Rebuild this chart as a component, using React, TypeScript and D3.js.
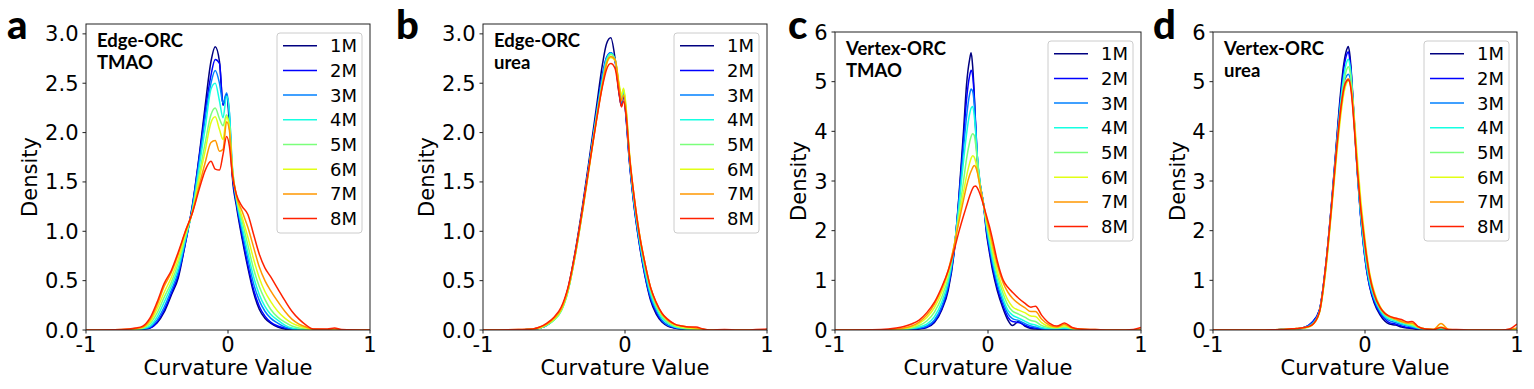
import * as d3 from "d3";

const concentrations = ["1M", "2M", "3M", "4M", "5M", "6M", "7M", "8M"];
// jet colormap sampled at i/8
const jetColors = ["#000080", "#0000ff", "#0080ff", "#15ffe2", "#7bff7b", "#e2ff15", "#ff9700", "#ff2100"];
const xTicks = [-1, 0, 1];
const edgeYTicks = [0, 0.5, 1, 1.5, 2, 2.5, 3];
const vertexYTicks = [0, 1, 2, 3, 4, 5, 6];

// ---- panel a: Edge-ORC, TMAO (each row: density of 1M..8M at that x)
const edgeTmaoX = [-1, -0.75, -0.65, -0.6, -0.55, -0.5, -0.45, -0.4, -0.35, -0.3, -0.25, -0.2, -0.16, -0.12, -0.09, -0.06, -0.035, -0.01, 0.01, 0.03, 0.06, 0.1, 0.14, 0.18, 0.22, 0.26, 0.3, 0.35, 0.4, 0.45, 0.5, 0.55, 0.6, 0.7, 0.75, 0.8, 1];
const edgeTmaoDensity = [
  [0, 0, 0, 0, 0, 0, 0, 0],
  [0, 0, 0, 0, 0, 0, 0.005, 0.005],
  [0, 0, 0, 0.005, 0.01, 0.01, 0.015, 0.02],
  [0.01, 0.01, 0.01, 0.015, 0.02, 0.025, 0.03, 0.04],
  [0.02, 0.02, 0.03, 0.04, 0.06, 0.08, 0.1, 0.12],
  [0.07, 0.08, 0.1, 0.13, 0.17, 0.21, 0.25, 0.28],
  [0.18, 0.2, 0.23, 0.28, 0.33, 0.38, 0.44, 0.47],
  [0.35, 0.37, 0.4, 0.44, 0.48, 0.53, 0.58, 0.6],
  [0.53, 0.56, 0.59, 0.63, 0.68, 0.72, 0.77, 0.79],
  [0.88, 0.88, 0.9, 0.92, 0.95, 0.97, 1.0, 1.0],
  [1.27, 1.26, 1.25, 1.22, 1.21, 1.2, 1.19, 1.19],
  [1.8, 1.78, 1.74, 1.68, 1.6, 1.55, 1.48, 1.44],
  [2.28, 2.22, 2.15, 2.05, 1.9, 1.82, 1.7, 1.62],
  [2.72, 2.58, 2.5, 2.44, 2.18, 2.1, 1.9, 1.71],
  [2.87, 2.74, 2.63, 2.5, 2.25, 2.16, 1.92, 1.63],
  [2.72, 2.7, 2.5, 2.32, 2.14, 2.03, 1.81, 1.62],
  [2.28, 2.28, 2.3, 2.15, 2.07, 1.93, 1.83, 1.78],
  [2.38, 2.39, 2.4, 2.37, 2.18, 2.16, 2.11, 1.96],
  [2.08, 2.15, 2.2, 2.2, 2.06, 2.06, 2.02, 1.86],
  [1.56, 1.6, 1.64, 1.67, 1.65, 1.64, 1.62, 1.58],
  [1.25, 1.28, 1.3, 1.32, 1.34, 1.35, 1.36, 1.37],
  [0.92, 0.95, 1.0, 1.04, 1.1, 1.14, 1.2, 1.25],
  [0.63, 0.66, 0.72, 0.78, 0.86, 0.94, 1.04, 1.17],
  [0.38, 0.41, 0.47, 0.54, 0.62, 0.72, 0.84, 0.97],
  [0.21, 0.24, 0.3, 0.36, 0.44, 0.53, 0.64, 0.77],
  [0.12, 0.14, 0.19, 0.24, 0.31, 0.39, 0.5, 0.63],
  [0.07, 0.08, 0.12, 0.16, 0.21, 0.29, 0.4, 0.54],
  [0.03, 0.04, 0.07, 0.1, 0.13, 0.19, 0.29, 0.42],
  [0.01, 0.02, 0.03, 0.05, 0.08, 0.12, 0.19, 0.3],
  [0, 0.01, 0.01, 0.02, 0.04, 0.07, 0.11, 0.19],
  [0, 0, 0, 0.01, 0.02, 0.04, 0.06, 0.11],
  [0, 0, 0, 0, 0.01, 0.02, 0.03, 0.05],
  [0, 0, 0, 0, 0, 0, 0.01, 0.01],
  [0, 0, 0, 0, 0, 0, 0.005, 0.01],
  [0, 0, 0, 0, 0, 0, 0.01, 0.02],
  [0, 0, 0, 0, 0, 0, 0, 0.005],
  [0, 0, 0, 0, 0, 0, 0, 0],
];

// ---- panel b: Edge-ORC, urea
const edgeUreaX = [-1, -0.75, -0.65, -0.6, -0.55, -0.5, -0.45, -0.4, -0.35, -0.3, -0.25, -0.2, -0.16, -0.13, -0.1, -0.07, -0.04, -0.025, -0.01, 0.01, 0.03, 0.06, 0.1, 0.14, 0.18, 0.22, 0.26, 0.3, 0.35, 0.4, 0.45, 0.5, 0.55, 0.6, 0.7, 0.8, 1];
const edgeUreaDensity = [
  [0, 0, 0, 0, 0, 0, 0, 0],
  [0, 0, 0, 0, 0, 0, 0.005, 0.005],
  [0.01, 0.01, 0.01, 0.01, 0.01, 0.01, 0.01, 0.01],
  [0.02, 0.02, 0.02, 0.02, 0.02, 0.02, 0.03, 0.03],
  [0.05, 0.05, 0.05, 0.05, 0.05, 0.06, 0.06, 0.07],
  [0.11, 0.11, 0.11, 0.1, 0.1, 0.11, 0.12, 0.13],
  [0.21, 0.21, 0.2, 0.19, 0.19, 0.2, 0.21, 0.23],
  [0.43, 0.42, 0.41, 0.4, 0.4, 0.41, 0.42, 0.44],
  [0.8, 0.78, 0.77, 0.76, 0.76, 0.76, 0.77, 0.79],
  [1.25, 1.22, 1.21, 1.2, 1.2, 1.19, 1.2, 1.22],
  [1.75, 1.71, 1.7, 1.69, 1.68, 1.66, 1.67, 1.68],
  [2.27, 2.21, 2.2, 2.18, 2.16, 2.14, 2.14, 2.13],
  [2.68, 2.58, 2.56, 2.53, 2.5, 2.47, 2.48, 2.46],
  [2.9, 2.76, 2.76, 2.74, 2.72, 2.69, 2.7, 2.64],
  [2.96, 2.81, 2.81, 2.8, 2.79, 2.76, 2.77, 2.7],
  [2.75, 2.72, 2.74, 2.74, 2.74, 2.73, 2.74, 2.65],
  [2.38, 2.4, 2.42, 2.44, 2.46, 2.48, 2.45, 2.38],
  [2.27, 2.27, 2.3, 2.33, 2.35, 2.38, 2.32, 2.26],
  [2.38, 2.4, 2.42, 2.43, 2.44, 2.45, 2.38, 2.32],
  [2.1, 2.12, 2.15, 2.17, 2.19, 2.22, 2.18, 2.14],
  [1.72, 1.73, 1.75, 1.77, 1.79, 1.82, 1.8, 1.78],
  [1.3, 1.31, 1.33, 1.35, 1.37, 1.4, 1.4, 1.4],
  [0.88, 0.89, 0.91, 0.93, 0.96, 0.99, 0.99, 0.98],
  [0.55, 0.56, 0.58, 0.61, 0.64, 0.68, 0.68, 0.68],
  [0.3, 0.32, 0.34, 0.37, 0.4, 0.43, 0.43, 0.43],
  [0.16, 0.18, 0.2, 0.22, 0.24, 0.27, 0.27, 0.28],
  [0.08, 0.09, 0.1, 0.12, 0.14, 0.16, 0.17, 0.17],
  [0.04, 0.05, 0.05, 0.07, 0.08, 0.1, 0.1, 0.11],
  [0.02, 0.02, 0.03, 0.03, 0.04, 0.05, 0.06, 0.06],
  [0.01, 0.01, 0.01, 0.02, 0.02, 0.03, 0.04, 0.04],
  [0, 0, 0.01, 0.01, 0.01, 0.02, 0.03, 0.03],
  [0, 0, 0, 0.01, 0.01, 0.01, 0.02, 0.03],
  [0, 0, 0, 0, 0, 0, 0.01, 0.01],
  [0, 0, 0, 0, 0, 0, 0, 0],
  [0, 0, 0, 0, 0, 0, 0, 0.005],
  [0, 0, 0, 0, 0, 0, 0, 0],
  [0, 0, 0, 0, 0, 0, 0, 0.01],
];

// ---- panels c and d share the x grid
const vertexX = [-1, -0.7, -0.6, -0.55, -0.5, -0.45, -0.4, -0.35, -0.3, -0.26, -0.22, -0.19, -0.16, -0.14, -0.12, -0.11, -0.1, -0.09, -0.08, -0.07, -0.05, -0.03, -0.01, 0.01, 0.03, 0.06, 0.1, 0.13, 0.16, 0.2, 0.24, 0.28, 0.31, 0.35, 0.4, 0.45, 0.5, 0.55, 0.6, 0.7, 0.8, 0.9, 0.95, 1];

// ---- panel c: Vertex-ORC, TMAO
const vertexTmaoDensity = [
  [0, 0, 0, 0, 0, 0, 0, 0],
  [0, 0, 0, 0, 0, 0, 0, 0.01],
  [0, 0, 0, 0.01, 0.01, 0.02, 0.02, 0.04],
  [0.01, 0.01, 0.01, 0.01, 0.02, 0.03, 0.04, 0.07],
  [0.01, 0.01, 0.02, 0.03, 0.04, 0.06, 0.08, 0.12],
  [0.02, 0.03, 0.04, 0.06, 0.09, 0.13, 0.16, 0.2],
  [0.05, 0.06, 0.08, 0.12, 0.18, 0.25, 0.3, 0.35],
  [0.15, 0.17, 0.2, 0.27, 0.36, 0.45, 0.52, 0.56],
  [0.42, 0.45, 0.5, 0.58, 0.68, 0.78, 0.85, 0.88],
  [0.8, 0.85, 0.9, 0.98, 1.06, 1.15, 1.2, 1.2],
  [1.6, 1.62, 1.65, 1.68, 1.7, 1.72, 1.72, 1.62],
  [2.7, 2.65, 2.6, 2.5, 2.35, 2.25, 2.18, 1.98],
  [4.0, 3.85, 3.65, 3.4, 3.0, 2.78, 2.62, 2.3],
  [4.95, 4.65, 4.3, 3.95, 3.45, 3.1, 2.9, 2.5],
  [5.45, 5.12, 4.75, 4.35, 3.78, 3.36, 3.12, 2.7],
  [5.58, 5.23, 4.85, 4.47, 3.9, 3.46, 3.2, 2.78],
  [5.3, 5.12, 4.8, 4.5, 3.95, 3.51, 3.27, 2.85],
  [4.75, 4.7, 4.55, 4.32, 3.92, 3.48, 3.31, 2.89],
  [4.0, 4.1, 4.05, 3.95, 3.72, 3.38, 3.28, 2.9],
  [3.4, 3.5, 3.5, 3.5, 3.42, 3.2, 3.18, 2.86],
  [2.9, 2.9, 2.92, 2.92, 2.9, 2.85, 2.85, 2.72],
  [2.55, 2.55, 2.55, 2.55, 2.55, 2.53, 2.55, 2.52],
  [1.95, 2.0, 2.05, 2.1, 2.15, 2.2, 2.25, 2.3],
  [1.55, 1.6, 1.68, 1.75, 1.85, 1.92, 2.0, 2.08],
  [1.2, 1.26, 1.34, 1.42, 1.52, 1.62, 1.72, 1.82],
  [0.8, 0.86, 0.94, 1.02, 1.12, 1.2, 1.32, 1.4],
  [0.42, 0.48, 0.55, 0.62, 0.72, 0.82, 0.94, 1.0],
  [0.2, 0.26, 0.33, 0.4, 0.5, 0.6, 0.76, 0.86],
  [0.09, 0.17, 0.23, 0.3, 0.38, 0.47, 0.64, 0.76],
  [0.17, 0.15, 0.19, 0.24, 0.32, 0.4, 0.53, 0.64],
  [0.08, 0.1, 0.13, 0.18, 0.26, 0.35, 0.45, 0.54],
  [0.03, 0.05, 0.08, 0.12, 0.19, 0.28, 0.37, 0.46],
  [0.02, 0.04, 0.06, 0.1, 0.17, 0.27, 0.37, 0.48],
  [0.01, 0.02, 0.03, 0.05, 0.09, 0.15, 0.22, 0.3],
  [0, 0.01, 0.02, 0.03, 0.05, 0.07, 0.1, 0.14],
  [0, 0.01, 0.02, 0.03, 0.04, 0.05, 0.06, 0.08],
  [0, 0.01, 0.02, 0.04, 0.06, 0.08, 0.11, 0.14],
  [0, 0, 0.01, 0.02, 0.03, 0.03, 0.04, 0.05],
  [0, 0, 0, 0.01, 0.01, 0.01, 0.02, 0.02],
  [0, 0, 0, 0, 0, 0, 0.01, 0.01],
  [0, 0, 0, 0, 0, 0, 0, 0],
  [0, 0, 0, 0, 0, 0, 0, 0],
  [0, 0, 0, 0, 0, 0, 0, 0.01],
  [0, 0, 0, 0, 0, 0, 0.02, 0.05],
];

// ---- panel d: Vertex-ORC, urea
const vertexUreaDensity = [
  [0, 0, 0, 0, 0, 0, 0, 0],
  [0, 0, 0, 0, 0, 0, 0, 0],
  [0, 0, 0, 0, 0, 0.005, 0.005, 0.005],
  [0.01, 0.01, 0.01, 0.01, 0.01, 0.01, 0.01, 0.01],
  [0.01, 0.01, 0.01, 0.01, 0.01, 0.02, 0.02, 0.02],
  [0.02, 0.02, 0.02, 0.02, 0.02, 0.03, 0.03, 0.03],
  [0.05, 0.05, 0.05, 0.04, 0.04, 0.04, 0.05, 0.05],
  [0.14, 0.15, 0.13, 0.11, 0.1, 0.09, 0.1, 0.1],
  [0.4, 0.4, 0.38, 0.36, 0.36, 0.34, 0.36, 0.36],
  [1.25, 1.25, 1.22, 1.2, 1.2, 1.15, 1.2, 1.25],
  [2.55, 2.55, 2.5, 2.5, 2.45, 2.4, 2.48, 2.5],
  [3.7, 3.65, 3.55, 3.6, 3.5, 3.4, 3.5, 3.55],
  [4.8, 4.7, 4.5, 4.6, 4.45, 4.3, 4.4, 4.45],
  [5.35, 5.25, 4.95, 5.1, 4.95, 4.75, 4.85, 4.85],
  [5.65, 5.55, 5.12, 5.4, 5.25, 4.98, 5.03, 5.02],
  [5.71, 5.6, 5.15, 5.45, 5.3, 5.02, 5.06, 5.04],
  [5.55, 5.45, 5.1, 5.35, 5.22, 5.0, 5.0, 4.98],
  [5.2, 5.15, 4.9, 5.1, 5.0, 4.85, 4.82, 4.78],
  [4.7, 4.65, 4.55, 4.65, 4.6, 4.6, 4.5, 4.45],
  [4.2, 4.15, 4.1, 4.15, 4.15, 4.25, 4.1, 4.05],
  [3.2, 3.15, 3.15, 3.2, 3.25, 3.45, 3.25, 3.2],
  [2.35, 2.32, 2.35, 2.4, 2.5, 2.7, 2.55, 2.5],
  [1.72, 1.7, 1.75, 1.8, 1.9, 2.1, 2.0, 1.95],
  [1.22, 1.22, 1.27, 1.32, 1.4, 1.58, 1.5, 1.48],
  [0.88, 0.89, 0.93, 0.98, 1.04, 1.16, 1.12, 1.09],
  [0.55, 0.58, 0.62, 0.66, 0.7, 0.78, 0.74, 0.72],
  [0.3, 0.33, 0.36, 0.4, 0.42, 0.47, 0.45, 0.45],
  [0.18, 0.22, 0.25, 0.28, 0.31, 0.34, 0.33, 0.34],
  [0.12, 0.15, 0.19, 0.22, 0.25, 0.28, 0.27, 0.28],
  [0.1, 0.12, 0.15, 0.18, 0.2, 0.23, 0.22, 0.24],
  [0.06, 0.08, 0.11, 0.13, 0.16, 0.18, 0.17, 0.21],
  [0.04, 0.05, 0.08, 0.1, 0.12, 0.14, 0.14, 0.16],
  [0.03, 0.04, 0.06, 0.08, 0.1, 0.12, 0.14, 0.17],
  [0.01, 0.02, 0.03, 0.04, 0.05, 0.06, 0.06, 0.07],
  [0, 0.01, 0.01, 0.01, 0.02, 0.02, 0.02, 0.02],
  [0, 0, 0, 0, 0.01, 0.01, 0.01, 0.01],
  [0, 0, 0.01, 0.02, 0.04, 0.06, 0.13, 0.05],
  [0, 0, 0, 0, 0, 0.01, 0.01, 0.01],
  [0, 0, 0, 0, 0, 0, 0, 0.01],
  [0, 0, 0, 0, 0, 0, 0, 0],
  [0, 0, 0, 0, 0, 0, 0, 0],
  [0, 0, 0, 0, 0, 0, 0, 0],
  [0, 0, 0, 0, 0, 0, 0.01, 0.02],
  [0, 0, 0, 0, 0, 0, 0.04, 0.12],
];

const W = 1534;
const H = 389;
const tickFont = "'DejaVu Sans', sans-serif";
const boldFont = "Lato, 'Open Sans', sans-serif";

const panels = [
  { id: "a", letter: "a", title: ["Edge-ORC", "TMAO"], xs: edgeTmaoX, rows: edgeTmaoDensity, yMax: 3.1, yTicks: edgeYTicks, fmt: d3.format(".1f"),
    left: 86, right: 370, top: 24, bottom: 330, letterX: 7, ylabelGap: 49.5 },
  { id: "b", letter: "b", title: ["Edge-ORC", "urea"], xs: edgeUreaX, rows: edgeUreaDensity, yMax: 3.1, yTicks: edgeYTicks, fmt: d3.format(".1f"),
    left: 483, right: 767, top: 24, bottom: 330, letterX: 396, ylabelGap: 49.5 },
  { id: "c", letter: "c", title: ["Vertex-ORC", "TMAO"], xs: vertexX, rows: vertexTmaoDensity, yMax: 6, yTicks: vertexYTicks, fmt: d3.format("d"),
    left: 835, right: 1141, top: 32, bottom: 330, letterX: 788, ylabelGap: 29 },
  { id: "d", letter: "d", title: ["Vertex-ORC", "urea"], xs: vertexX, rows: vertexUreaDensity, yMax: 6, yTicks: vertexYTicks, fmt: d3.format("d"),
    left: 1213, right: 1517, top: 32, bottom: 330, letterX: 1153, ylabelGap: 28.5 },
];

function DensityPanel({ p }: { p: (typeof panels)[number] }) {
  const x = d3.scaleLinear().domain([-1, 1]).range([p.left, p.right]);
  const y = d3.scaleLinear().domain([0, p.yMax]).range([p.bottom, p.top]);
  const line = d3
    .line<[number, number]>()
    .x((d) => x(d[0]))
    .y((d) => y(d[1]))
    .curve(d3.curveMonotoneX);

  const series = concentrations.map((_, i) =>
    p.xs.map((xv, j) => [xv, p.rows[j][i]] as [number, number])
  );

  // legend geometry (matplotlib-like)
  const legW = 85;
  const legH = 200;
  const legX = p.right - 8 - legW;
  const legY = p.top + 9;
  const rowH = 24.7;

  return (
    <g>
      <defs>
        <clipPath id={`clip-${p.id}`}>
          <rect x={p.left} y={p.top} width={p.right - p.left} height={p.bottom - p.top} />
        </clipPath>
      </defs>

      <text x={p.letterX} y={39} fontFamily={boldFont} fontWeight={900} fontSize={40} fill="#000">
        {p.letter}
      </text>

      <g clipPath={`url(#clip-${p.id})`}>
        {series.map((s, i) => (
          <path key={i} d={line(s) ?? ""} fill="none" stroke={jetColors[i]} strokeWidth={1.5} />
        ))}
      </g>

      <rect x={p.left} y={p.top} width={p.right - p.left} height={p.bottom - p.top} fill="none" stroke="#222" strokeWidth={1} />

      {/* y axis */}
      {p.yTicks.map((t) => (
        <g key={`y${t}`}>
          <line x1={p.left - 3.5} x2={p.left} y1={y(t)} y2={y(t)} stroke="#222" strokeWidth={1} />
          <text x={p.left - 7.5} y={y(t)} dy="0.36em" textAnchor="end" fontFamily={tickFont} fontSize={21} fill="#000">
            {p.fmt(t)}
          </text>
        </g>
      ))}
      {/* x axis */}
      {xTicks.map((t) => (
        <g key={`x${t}`}>
          <line x1={x(t)} x2={x(t)} y1={p.bottom} y2={p.bottom + 3.5} stroke="#222" strokeWidth={1} />
          <text x={x(t)} y={352} textAnchor="middle" fontFamily={tickFont} fontSize={21} fill="#000">
            {String(t)}
          </text>
        </g>
      ))}

      <text x={(p.left + p.right) / 2} y={375} textAnchor="middle" fontFamily={tickFont} fontSize={21} fill="#000">
        Curvature Value
      </text>
      <text
        transform={`translate(${p.left - p.ylabelGap},${(p.top + p.bottom) / 2}) rotate(-90)`}
        textAnchor="middle"
        fontFamily={tickFont}
        fontSize={21}
        fill="#000"
      >
        Density
      </text>

      {p.title.map((t, i) => (
        <text key={t} x={p.left + 11} y={p.top + 23 + i * 22} fontFamily={boldFont} fontWeight={700} fontSize={18.5} fill="#000">
          {t}
        </text>
      ))}

      {/* legend */}
      <rect x={legX} y={legY} width={legW} height={legH} rx={3} fill="#fff" fillOpacity={0.8} stroke="#cccccc" strokeWidth={1} />
      {concentrations.map((c, i) => {
        const ry = legY + 12.7 + i * rowH;
        return (
          <g key={c}>
            <line x1={legX + 6} x2={legX + 40} y1={ry} y2={ry} stroke={jetColors[i]} strokeWidth={1.5} />
            <text x={legX + 53} y={ry} dy="0.36em" fontFamily={tickFont} fontSize={18} fill="#000">
              {c}
            </text>
          </g>
        );
      })}
    </g>
  );
}

export default function App() {
  return (
    <svg
      width={W}
      height={H}
      viewBox={`0 0 ${W} ${H}`}
      style={{ position: "absolute", left: 0, top: 0, background: "#fff" }}
    >
      {panels.map((p) => (
        <DensityPanel key={p.id} p={p} />
      ))}
    </svg>
  );
}
